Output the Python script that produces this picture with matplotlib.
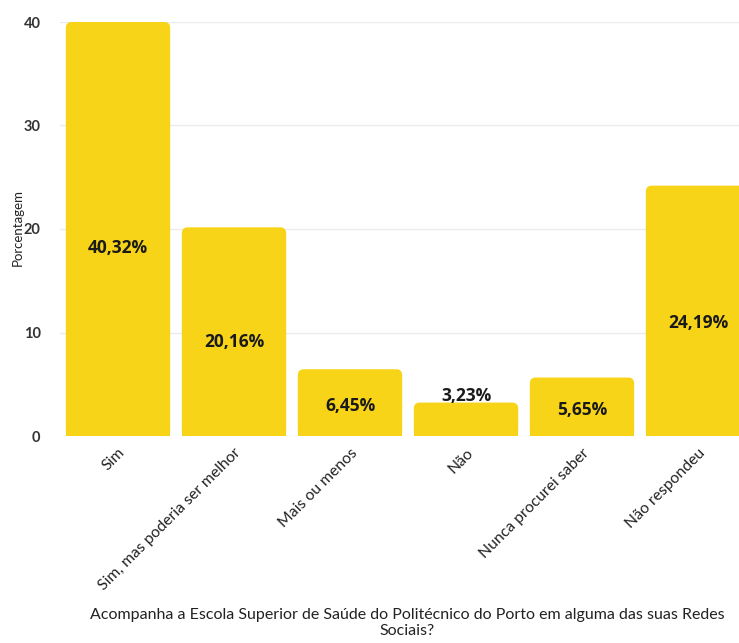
import matplotlib
matplotlib.use("Agg")
import matplotlib.pyplot as plt
from matplotlib.patches import FancyBboxPatch, Rectangle

categories = ["Sim", "Sim, mas poderia ser melhor", "Mais ou menos", "Não",
              "Nunca procurei saber", "Não respondeu"]
values = [40.32, 20.16, 6.45, 3.23, 5.65, 24.19]
labels = ["40,32%", "20,16%", "6,45%", "3,23%", "5,65%", "24,19%"]
yticks = [0, 10, 20, 30, 40]

color = "#F7D417"
font = "Lato"

fig = plt.figure(figsize=(7.39, 6.43), dpi=100)
ax = fig.add_axes([60/739, 207/643, 696/739, 414/643])
ymax = 40
ax.set_ylim(0, ymax)
ax.set_xlim(-0.5, len(categories) - 0.5)

width = 0.9
px_x = 116.0  # px per x unit
px_y = 414.0 / ymax
r_x = 6.0 / px_x
aspect = px_x / px_y
for i, v in enumerate(values):
    h = min(v, ymax)
    p = FancyBboxPatch((i - width/2, 0), width, h,
                       boxstyle=f"round,pad=0,rounding_size={r_x}",
                       mutation_aspect=aspect, fc=color, ec="none",
                       zorder=3, clip_on=True)
    ax.add_patch(p)
    ax.add_patch(Rectangle((i - width/2, 0), width, h/2, fc=color, ec="none",
                           zorder=3))
    if v > 5:
        ax.text(i, v * 0.45, labels[i], ha="center", va="center",
                fontsize=12.5, fontweight="bold", family="Open Sans",
                color="#1a1a1a", zorder=4)
    else:
        ax.text(i, v - 0.2, labels[i], ha="center", va="bottom",
                fontsize=12.5, fontweight="bold", family="Open Sans",
                color="#1a1a1a", zorder=4)

ax.set_yticks(yticks)
ax.set_yticklabels([str(t) for t in yticks], family=font, fontsize=10.5,
                   color="#333333", fontweight="bold")
ax.set_xticks(range(len(categories)))
ax.set_xticklabels(categories, rotation=45, ha="right", rotation_mode="anchor",
                   family=font, fontsize=11.3, color="#222222")
ax.tick_params(axis="both", length=0)
ax.tick_params(axis="y", pad=14)
ax.tick_params(axis="x", pad=7)
ax.grid(axis="y", color="#ebebeb", linewidth=1, zorder=0)
ax.set_axisbelow(True)
for s in ax.spines.values():
    s.set_visible(False)

fig.text(18/739, 1 - 228/643, "Porcentagem", rotation=90, ha="center",
         va="center", family=font, fontsize=9.5, color="#222222")
fig.text(407/739, 1 - 623/643,
         "Acompanha a Escola Superior de Saúde do Politécnico do Porto em alguma das suas Redes\nSociais?",
         ha="center", va="center", family=font, fontsize=11.5, color="#222222",
         linespacing=1.15)

fig.savefig("out.png", dpi=100)
